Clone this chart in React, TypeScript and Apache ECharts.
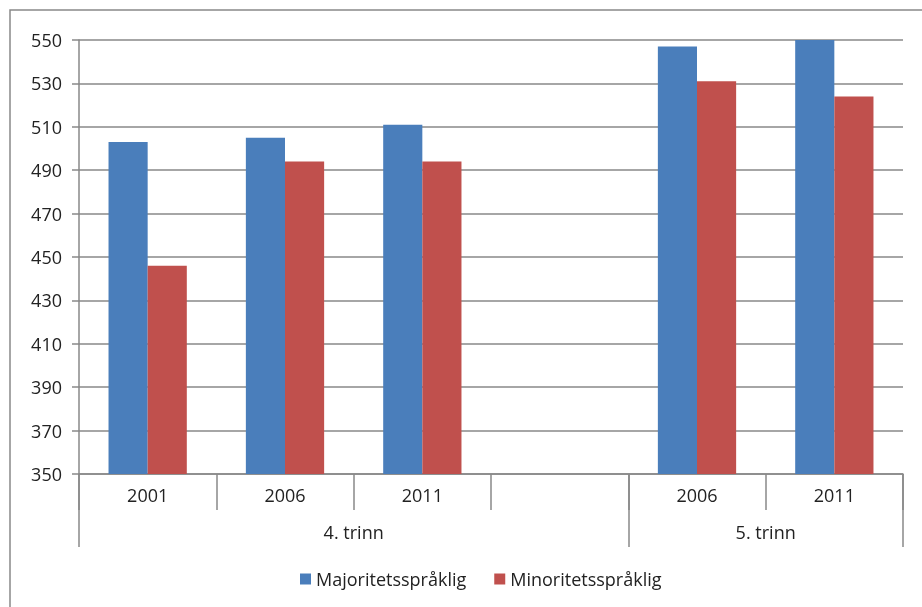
import React, { useEffect, useRef } from "react";
import * as echarts from "echarts";

const categories = ["2001", "2006", "2011", "", "2006", "2011"];
const groupSlots = ["", "", "", "", "4. trinn", "", "", "", "", "", "5. trinn", "", ""];
const groupBoundaries = [0, 8, 12];
const majoritet = [503, 505, 511, null, 547, 550];
const minoritet = [446, 494, 494, null, 531, 524];
const seriesNames = ["Majoritetsspråklig", "Minoritetsspråklig"];

const FONT = "Open Sans";
const GRAY = "#898989";
const FS = 18;

export default function App() {
  const ref = useRef<HTMLDivElement>(null);
  useEffect(() => {
    if (!ref.current) return;
    const chart = echarts.init(ref.current, null, { renderer: "svg" });
    chart.setOption({
      animation: false,
      textStyle: { fontFamily: FONT },
      graphic: [
        {
          type: "rect",
          shape: { x: 10, y: 10, width: 960, height: 640 },
          style: { fill: "none", stroke: GRAY, lineWidth: 1.5 },
          silent: true,
        },
      ],
      grid: { left: 79, right: 19, top: 40, bottom: 133, containLabel: false },
      legend: {
        data: seriesNames,
        bottom: 14,
        left: 295,
        icon: "rect",
        itemWidth: 11,
        itemHeight: 11,
        itemGap: 28,
        textStyle: { fontFamily: FONT, fontSize: FS, color: "#222" },
      },
      xAxis: [
        {
          type: "category",
          data: categories,
          position: "bottom",
          boundaryGap: true,
          axisLine: { show: true, lineStyle: { color: GRAY, width: 1.5 } },
          axisTick: { show: true, interval: 0, length: 36, lineStyle: { color: GRAY, width: 1.5 } },
          axisLabel: { interval: 0, margin: 12, fontFamily: FONT, fontSize: FS, color: "#222" },
        },
        {
          type: "category",
          data: groupSlots,
          position: "bottom",
          boundaryGap: false,
          axisLine: { show: false },
          axisTick: {
            show: true,
            length: 73,
            interval: (i: number) => groupBoundaries.includes(i),
            lineStyle: { color: GRAY, width: 1.5 },
          },
          axisLabel: {
            interval: (_i: number, v: string) => v !== "",
            margin: 49,
            fontFamily: FONT,
            fontSize: FS,
            color: "#222",
          },
        },
      ],
      yAxis: {
        type: "value",
        min: 350,
        max: 550,
        interval: 20,
        axisLine: { show: true, lineStyle: { color: GRAY, width: 1.5 } },
        axisTick: { show: true, length: 7, lineStyle: { color: GRAY, width: 1.5 } },
        axisLabel: { margin: 17, fontFamily: FONT, fontSize: FS, color: "#222" },
        splitLine: { show: true, lineStyle: { color: GRAY, width: 1.5 } },
      },
      series: [
        {
          name: seriesNames[0],
          type: "bar",
          data: majoritet,
          xAxisIndex: 0,
          barGap: "0%",
          barCategoryGap: "43%",
          itemStyle: { color: "#4A7EBB" },
        },
        {
          name: seriesNames[1],
          type: "bar",
          data: minoritet,
          xAxisIndex: 0,
          barGap: "0%",
          barCategoryGap: "43%",
          itemStyle: { color: "#C0504D" },
        },
      ],
    });
    return () => chart.dispose();
  }, []);
  return (
    <div
      ref={ref}
      style={{ position: "fixed", left: 0, top: 0, width: 922, height: 607 }}
    />
  );
}
